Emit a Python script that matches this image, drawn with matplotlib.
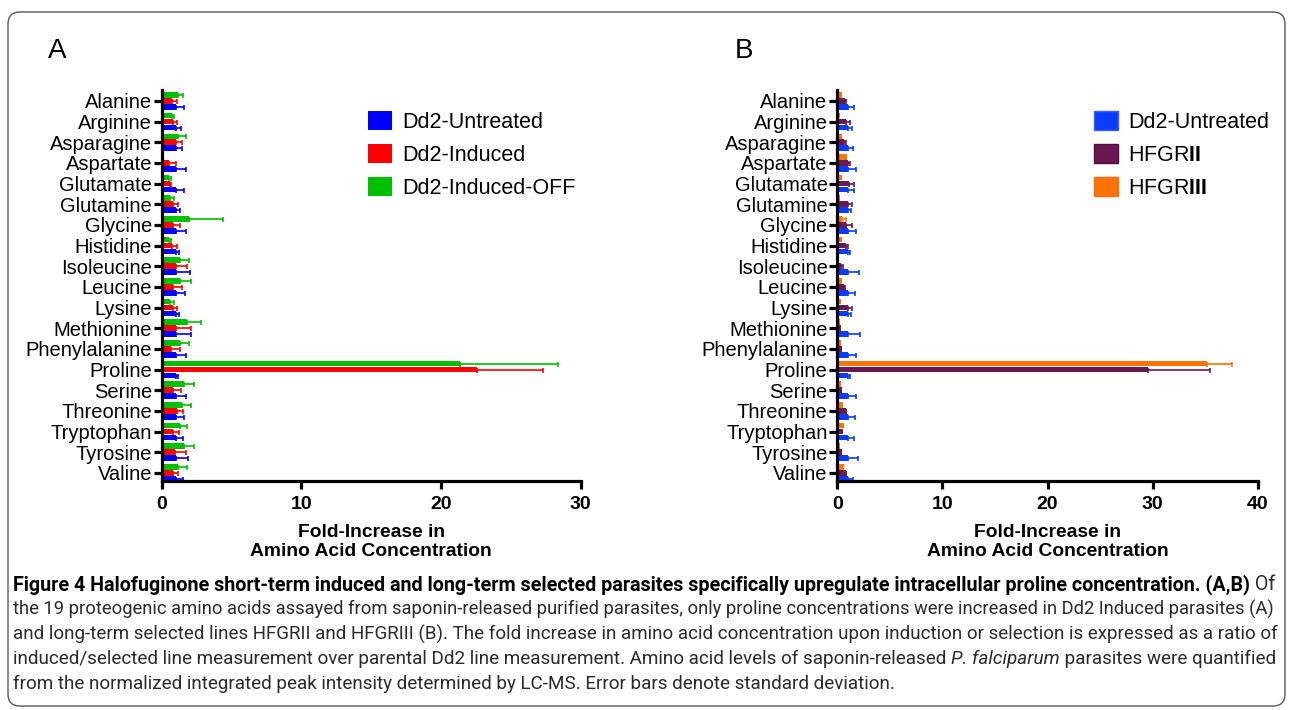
import matplotlib
matplotlib.use('Agg')
import matplotlib.pyplot as plt
import numpy as np
from matplotlib.patches import FancyBboxPatch
from matplotlib.transforms import IdentityTransform

plt.rcParams['font.family'] = ['Liberation Sans', 'DejaVu Sans']
plt.rcParams['mathtext.fontset'] = 'custom'
plt.rcParams['mathtext.rm'] = 'Liberation Sans'
plt.rcParams['mathtext.bf'] = 'Liberation Sans:bold'

amino = ['Alanine', 'Arginine', 'Asparagine', 'Aspartate', 'Glutamate', 'Glutamine',
         'Glycine', 'Histidine', 'Isoleucine', 'Leucine', 'Lysine', 'Methionine',
         'Phenylalanine', 'Proline', 'Serine', 'Threonine', 'Tryptophan', 'Tyrosine', 'Valine']

# panel A
untreated_a = [1.0] * 19
untreated_a_sd = [0.58, 0.4, 0.48, 0.72, 0.58, 0.3, 0.74, 0.25, 1.03, 0.67,
                  0.24, 1.1, 0.74, 0.15, 0.77, 0.6, 0.53, 0.86, 0.5]
induced = [0.72, 0.79, 1.0, 0.55, 0.62, 0.81, 0.81, 0.76, 1.0, 0.81,
           0.81, 1.0, 0.69, 22.55, 0.84, 1.07, 0.81, 0.93, 0.79]
induced_sd = [0.38, 0.31, 0.46, 0.48, 0.05, 0.36, 0.53, 0.36, 0.81, 0.62,
              0.29, 1.1, 0.6, 4.75, 0.54, 0.46, 0.43, 0.79, 0.4]
induced_off = [1.15, 0.72, 1.15, 0.0, 0.5, 0.57, 1.96, 0.5, 1.31, 1.31,
               0.57, 1.84, 1.34, 21.35, 1.6, 1.43, 1.31, 1.58, 1.19]
induced_off_sd = [0.35, 0.18, 0.59, 0.0, 0.17, 0.31, 2.41, 0.17, 0.65, 0.81,
                  0.29, 0.95, 0.62, 7.05, 0.71, 0.65, 0.5, 0.73, 0.65]

# panel B
untreated_b = [1.0] * 19
untreated_b_sd = [0.6, 0.42, 0.49, 0.74, 0.6, 0.3, 0.77, 0.23, 1.06, 0.68,
                  0.3, 1.12, 0.8, 0.17, 0.8, 0.65, 0.55, 0.93, 0.49]
hfgr2 = [0.7, 0.85, 0.66, 1.04, 1.1, 1.0, 0.8, 0.8, 0.35, 0.63,
         1.0, 0.35, 0.41, 29.6, 0.47, 0.8, 0.54, 0.47, 0.8]
hfgr2_sd = [0.1, 0.38, 0.14, 0.13, 0.45, 0.42, 0.59, 0.24, 0.15, 0.1,
            0.42, 0.0, 0.0, 5.9, 0.0, 0.05, 0.0, 0.0, 0.05]
hfgr3 = [0.47, 0.22, 0.47, 0.92, 0.47, 0.28, 0.41, 0.47, 0.19, 0.41,
         0.32, 0.25, 0.38, 35.2, 0.38, 0.5, 0.66, 0.28, 0.63]
hfgr3_sd = [0.0, 0.0, 0.0, 0.0, 0.0, 0.0, 0.44, 0.0, 0.0, 0.0,
            0.0, 0.0, 0.0, 2.4, 0.0, 0.0, 0.0, 0.0, 0.0]

W, H = 1293, 710
fig = plt.figure(figsize=(W / 100, H / 100), dpi=100)

box = FancyBboxPatch((8, 4), 1277, 694, boxstyle='round,pad=0,rounding_size=12',
                     transform=IdentityTransform(), facecolor='none',
                     edgecolor='#5a5a5a', linewidth=1.0)
fig.patches.append(box)


def px_axes(left, right, top, bottom):
    return fig.add_axes([left / W, 1 - bottom / H, (right - left) / W, (bottom - top) / H])


def draw_panel(ax, series, xmax, step):
    y = np.arange(len(amino))
    offs = [-0.29, 0.0, 0.29]
    bars = []
    for (vals, sd, col, lab), off in zip(series, offs):
        vals = np.array(vals)
        sd = np.array(sd)
        b = ax.barh(y + off, vals, height=0.27, color=col, label=lab, zorder=2)
        bars.append(b)
        m = sd > 0
        ax.errorbar(vals[m], (y + off)[m], xerr=[np.zeros(m.sum()), sd[m]], fmt='none',
                    ecolor=col, elinewidth=1.2, capsize=1.8, capthick=1.2, zorder=2)
    ax.set_yticks(y)
    ax.set_yticklabels(amino, fontsize=14.5)
    ax.set_ylim(18.39, -0.53)
    ax.set_xlim(0, xmax)
    ax.set_xticks(np.arange(0, xmax + 1, step))
    for lab in ax.get_xticklabels():
        lab.set_fontweight('bold')
        lab.set_fontsize(14)
    ax.spines['top'].set_visible(False)
    ax.spines['right'].set_visible(False)
    for s in ('left', 'bottom'):
        ax.spines[s].set_linewidth(2.3)
    ax.tick_params(axis='y', length=6, width=2.3, pad=1)
    ax.tick_params(axis='x', length=6, width=2.3, pad=5)
    return bars


axA = px_axes(161.7, 580.7, 90, 481)
barsA = draw_panel(axA, [(induced_off, induced_off_sd, '#00c000', 'Dd2-Induced-OFF'),
                         (induced, induced_sd, '#ff0000', 'Dd2-Induced'),
                         (untreated_a, untreated_a_sd, '#0000ff', 'Dd2-Untreated')], 30, 10)

axB = px_axes(837.3, 1257.7, 90, 481)
barsB = draw_panel(axB, [(hfgr3, hfgr3_sd, '#ff7300', 'HFGRIII'),
                         (hfgr2, hfgr2_sd, '#6a1850', 'HFGRII'),
                         (untreated_b, untreated_b_sd, '#0a3cff', 'Dd2-Untreated')], 40, 10)

leg_kw = dict(loc='upper left', frameon=False, fontsize=15.5, handlelength=1.1,
              handleheight=1.0, labelspacing=0.5, handletextpad=0.5,
              borderpad=0, borderaxespad=0)
fig.legend([barsA[2], barsA[1], barsA[0]], ['Dd2-Untreated', 'Dd2-Induced', 'Dd2-Induced-OFF'],
           bbox_to_anchor=(368 / W, 1 - 111 / H), **leg_kw)
legB = fig.legend([barsB[2], barsB[1], barsB[0]],
                  ['Dd2-Untreated', r'HFGR$\mathbf{II}$', r'HFGR$\mathbf{III}$'],
                  bbox_to_anchor=(1094 / W, 1 - 111 / H), **leg_kw)
for h, c in zip(legB.legend_handles, ['#3a60ff', '#5a0a40', '#ff6a10']):
    h.set_edgecolor(c)
    h.set_linewidth(1.0)

fig.text(48 / W, 1 - 58 / H, 'A', fontsize=20, va='baseline')
fig.text(735 / W, 1 - 58 / H, 'B', fontsize=20, va='baseline')

xlab = 'Fold-Increase in\nAmino Acid Concentration'
fig.text(371.2 / W, 1 - 524 / H, xlab, fontsize=13.9, fontweight='bold',
         ha='center', va='top', linespacing=1.12)
fig.text(1047.5 / W, 1 - 524 / H, xlab, fontsize=13.9, fontweight='bold',
         ha='center', va='top', linespacing=1.12)

# caption, justified lines with mixed styles
cap_lines = [
    ([('Figure 4 Halofuginone short-term induced and long-term selected parasites specifically '
       'upregulate intracellular proline concentration. (A,B)', 'bold', 'normal'),
      (' Of', 'normal', 'normal')], True),
    ([('the 19 proteogenic amino acids assayed from saponin-released purified parasites, only '
       'proline concentrations were increased in Dd2 Induced parasites (A)', 'normal', 'normal')], True),
    ([('and long-term selected lines HFGRII and HFGRIII (B). The fold increase in amino acid '
       'concentration upon induction or selection is expressed as a ratio of', 'normal', 'normal')], True),
    ([('induced/selected line measurement over parental Dd2 line measurement. Amino acid levels '
       'of saponin-released ', 'normal', 'normal'),
      ('P. falciparum', 'normal', 'italic'),
      (' parasites were quantified', 'normal', 'normal')], True),
    ([('from the normalized integrated peak intensity determined by LC-MS. Error bars denote '
       'standard deviation.', 'normal', 'normal')], False),
]
cap_base = [590, 615, 639.5, 664, 689]
cap_font = ['Roboto', 'DejaVu Sans']
x0, x1 = 13, 1277
renderer = fig.canvas.get_renderer()
base_fs = 10.0
sizes = []


def run_widths(runs, fs):
    ws = []
    for txt, wt, st in runs:
        t = fig.text(0, 0, txt.replace(' ', '\u00a0'), fontsize=fs, fontweight=wt, fontstyle=st,
                     family=cap_font)
        ws.append(t.get_window_extent(renderer).width)
        t.remove()
    return ws


for (runs, just), yb in zip(cap_lines, cap_base):
    if just:
        tot = sum(run_widths(runs, base_fs))
        fs = base_fs * (x1 - x0) / tot
        sizes.append(fs)
    else:
        fs = np.mean(sizes)
    ws = run_widths(runs, fs)
    x = x0
    for (txt, wt, st), w in zip(runs, ws):
        col = 'black' if wt == 'bold' else '#2b2b2b'
        fig.text(x / W, 1 - yb / H, txt.replace(' ', '\u00a0'), fontsize=fs, fontweight=wt,
                 fontstyle=st, color=col, va='baseline', family=cap_font)
        x += w

fig.savefig('out.png', dpi=100)
